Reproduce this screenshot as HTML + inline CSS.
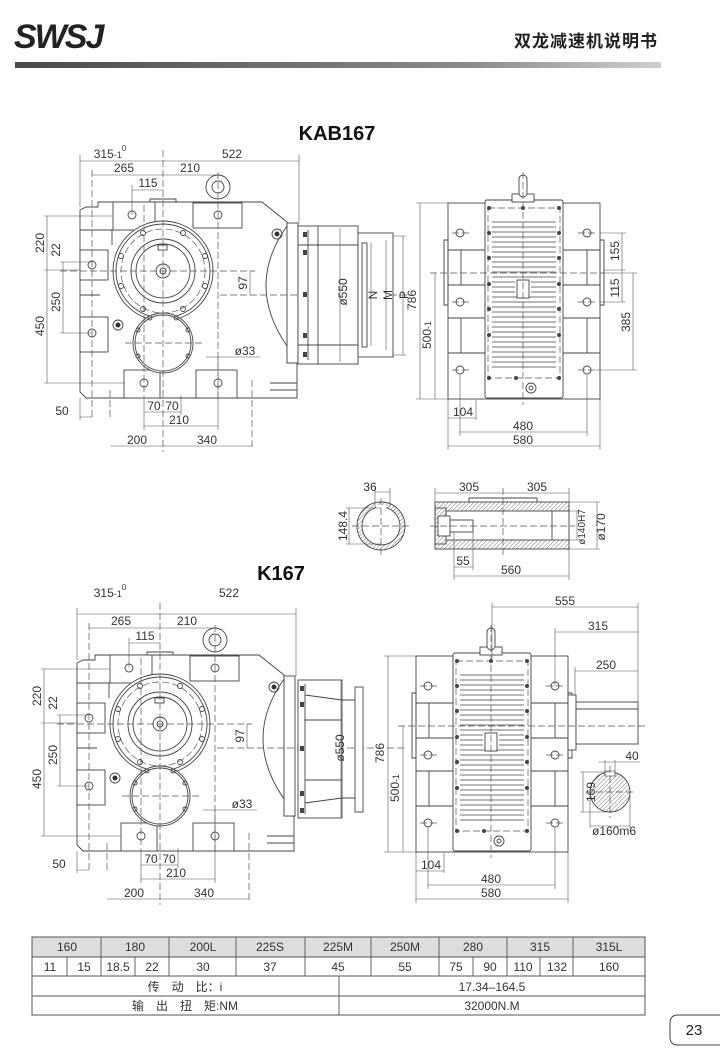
<!DOCTYPE html>
<html><head><meta charset="utf-8"><style>
html,body{margin:0;padding:0;background:#fff;}
svg{display:block;}
text{font-family:"Liberation Sans","Noto Sans CJK SC",sans-serif;fill:#333;}
.l{stroke:#444;stroke-width:0.9;fill:none;}
.t{stroke:#555;stroke-width:0.6;fill:none;}
.d{stroke:#555;stroke-width:0.7;fill:none;stroke-dasharray:7,3;}
.w{stroke:#444;stroke-width:0.9;fill:#fff;}
.dm{font-size:12px;}
</style></head><body>
<svg width="720" height="1060" viewBox="0 0 720 1060" xmlns="http://www.w3.org/2000/svg">
<defs>
<linearGradient id="bar" x1="0" x2="1" y1="0" y2="0">
<stop offset="0" stop-color="#4a4a4a"/><stop offset="0.7" stop-color="#8a8a8a"/><stop offset="1" stop-color="#cfcfcf"/>
</linearGradient>
<pattern id="hatch" width="3" height="3" patternUnits="userSpaceOnUse" patternTransform="rotate(45)">
<line x1="0" y1="0" x2="0" y2="3" stroke="#555" stroke-width="0.8"/>
</pattern>
<g id="fv">
<path class="w" d="M80,210 L86,207 L98,207 L98,202 L262,202 L287,222 L287,363 L297,363 L297,398 L86,398 L80,392 Z"/>
<path class="l" d="M270,383 L297,383 M270,390 L297,390"/>
<rect class="w" x="113" y="202" width="42" height="28"/>
<rect class="w" x="193" y="203" width="49" height="25"/>
<rect class="w" x="80" y="250" width="28" height="30"/>
<rect class="w" x="80" y="317" width="28" height="35"/>
<rect class="w" x="124" y="370" width="36" height="28"/>
<rect class="w" x="196" y="370" width="41" height="28"/>
<path class="l" d="M80,230 L112,230 L112,245 M80,295 L100,295"/>
<circle class="l" cx="132" cy="215" r="4"/><circle class="l" cx="218" cy="215" r="4"/>
<circle class="l" cx="92" cy="265" r="4"/><circle class="l" cx="92" cy="333" r="4"/>
<circle class="l" cx="144" cy="383" r="4"/><circle class="l" cx="218" cy="383" r="4"/>
<path class="l" d="M287,226 Q245,285 287,346"/>
<circle class="w" cx="218" cy="187" r="12"/><circle class="l" cx="218" cy="187" r="6"/>
<path class="l" d="M150,202 L150,199 L176,199 L176,202"/>
<circle class="w" cx="163" cy="271" r="50"/>
<circle class="l" cx="163" cy="271" r="47"/>
<circle class="d" cx="163" cy="271" r="42"/>
<circle class="l" cx="163" cy="271" r="32"/>
<circle class="l" cx="163" cy="271" r="27"/>
<circle class="l" cx="163" cy="271" r="7"/><circle class="l" cx="163" cy="271" r="3"/>
<rect class="l" x="158" y="245" width="9" height="5"/>
<g class="l">
<circle cx="143" cy="233" r="2.5"/><circle cx="183" cy="233" r="2.5"/>
<circle cx="205" cy="256" r="2.5"/><circle cx="205" cy="286" r="2.5"/>
<circle cx="121" cy="256" r="2.5"/><circle cx="121" cy="286" r="2.5"/>
<circle cx="143" cy="309" r="2.5"/><circle cx="183" cy="309" r="2.5"/>
</g>
<circle class="w" cx="163" cy="343" r="30"/>
<circle class="l" cx="163" cy="343" r="28"/>
<g class="l">
<circle cx="150" cy="318" r="2"/><circle cx="176" cy="318" r="2"/>
<circle cx="138" cy="330" r="2"/><circle cx="188" cy="330" r="2"/>
<circle cx="138" cy="356" r="2"/><circle cx="188" cy="356" r="2"/>
</g>
<circle class="l" cx="277" cy="234" r="5"/><circle fill="#333" cx="277" cy="234" r="2.5"/>
<circle class="l" cx="118" cy="325" r="5"/><circle fill="#333" cx="118" cy="325" r="2.5"/>
<rect class="w" x="287" y="223" width="11" height="140"/>
<path class="d" d="M163,150 L163,452 M60,271 L255,271 M220,295 L410,295 M125,343 L205,343 M218,172 L218,400 M144,205 L144,395 M110,390 L110,420 M252,380 L252,450 M92,170 L92,420"/>
<path class="t" d="M80,161 L299,161 M80,155 L80,207 M299,155 L299,223 M92,175 L218,175 M132,190 L163,190 M132,185 L132,215"/>
<path class="t" d="M44,216 L112,216 M44,270 L80,270 M44,383 L124,383 M47,216 L47,383 M63,262 L63,333 M60,333 L92,333 M60,262 L92,262"/>
<path class="t" d="M250,271 L250,295"/>
<path class="t" d="M80,417 L92,417 M80,398 L80,420 M144,412 L181,412 M181,395 L181,415 M144,426 L218,426 M144,395 L144,430 M110,446 L252,446 M218,357 L218,430 M206,357 L260,357"/>
</g>
<g id="sv">
<rect class="w" x="448" y="203" width="152" height="196"/>
<path class="l" d="M448,250 L485,250 M448,285 L485,285 M448,318 L485,318 M448,353 L485,353 M563,250 L600,250 M563,285 L600,285 M563,318 L600,318 M563,353 L600,353 M461,250 L461,285 M461,318 L461,353 M587,250 L587,285 M587,318 L587,353"/>
<path class="l" d="M444,240 L448,240 L448,305 L444,305 Z M600,240 L604,240 L604,305 L600,305 Z"/>
<circle class="l" cx="460" cy="233" r="4"/><circle class="l" cx="460" cy="302" r="4"/><circle class="l" cx="460" cy="370" r="4"/>
<circle class="l" cx="587" cy="233" r="4"/><circle class="l" cx="587" cy="302" r="4"/><circle class="l" cx="587" cy="370" r="4"/>
<rect class="w" x="485" y="200" width="78" height="198" rx="2"/>
<rect class="d" x="488" y="208" width="72" height="170"/>
<path stroke="#444" stroke-width="0.8" fill="none" d="M492,222H556M492,227H556M492,232H556M492,237H556M492,242H556M492,247H556M492,252H556M492,257H556M492,262H556M492,267H556M492,272H556M492,277H556M492,282H515M531,282H556M492,287H515M531,287H556M492,292H515M531,292H556M492,297H556M492,302H556M492,307H556M492,312H556M492,317H556M492,322H556M492,327H556M492,332H556M492,337H556M492,342H556M492,347H556M492,352H556M492,357H556M492,362H556M492,367H556"/>
<rect class="w" x="517" y="280" width="12" height="18"/>
<g fill="#444">
<circle cx="489" cy="208" r="2"/><circle cx="559" cy="208" r="2"/><circle cx="489" cy="233" r="2"/><circle cx="559" cy="233" r="2"/>
<circle cx="489" cy="258" r="2"/><circle cx="559" cy="258" r="2"/><circle cx="489" cy="284" r="2"/><circle cx="559" cy="284" r="2"/>
<circle cx="489" cy="309" r="2"/><circle cx="559" cy="309" r="2"/><circle cx="489" cy="335" r="2"/><circle cx="559" cy="335" r="2"/>
<circle cx="489" cy="378" r="2"/><circle cx="559" cy="378" r="2"/><circle cx="523" cy="208" r="2"/><circle cx="516" cy="378" r="2"/>
</g>
<rect class="w" x="512" y="194" width="22" height="8"/>
<rect class="w" x="519" y="175" width="8" height="22" rx="4"/>
<circle class="l" cx="531" cy="388" r="5"/><circle class="l" cx="531" cy="388" r="2"/>
<path class="d" d="M523,172 L523,405 M430,273 L605,273 M452,233 L470,233 M452,302 L470,302 M452,370 L470,370 M578,233 L596,233 M578,302 L596,302 M578,370 L596,370"/>
<path class="t" d="M416,203 L448,203 M420,203 L420,399 M416,399 L448,399 M435,273 L435,399 M448,399 L448,450 M600,399 L600,450 M460,375 L460,436 M476,400 L476,420 M587,375 L587,436 M448,418 L476,418 M460,432 L587,432 M448,446 L600,446"/>
</g>
</defs>

<text x="14" y="48" style="font-size:34px;font-weight:bold;font-style:italic;letter-spacing:-2px;fill:#222">SWSJ</text>
<text x="658" y="47" text-anchor="end" style="font-size:17px;font-weight:bold;fill:#222;letter-spacing:1px">双龙减速机说明书</text>
<rect x="15" y="62" width="646" height="6" fill="url(#bar)"/>

<text x="337" y="140" text-anchor="middle" style="font-size:20px;font-weight:bold;fill:#111">KAB167</text>
<use href="#fv"/>
<rect class="w" x="298" y="226" width="60" height="138"/>
<path class="l" d="M308,230 L308,360 M298,245 L358,245 M298,345 L358,345 M318,226 L318,364"/>
<g fill="#444"><rect x="303" y="232" width="4" height="5"/><rect x="303" y="250" width="4" height="5"/><rect x="303" y="292" width="4" height="5"/><rect x="303" y="333" width="4" height="5"/><rect x="303" y="352" width="4" height="5"/></g>
<rect class="w" x="358" y="233" width="35" height="124"/>
<rect class="l" x="362" y="243" width="5" height="104"/>
<path class="t" d="M340,228 L340,362 M371,243 L371,346 M386,240 L386,350 M403,236 L403,355 M393,236 L406,236 M393,355 L406,355"/>
<g class="dm">
<text x="110" y="158" text-anchor="middle">315<tspan font-size="9">-1</tspan><tspan font-size="8" dy="-7">0</tspan></text>
<text x="232" y="158" text-anchor="middle">522</text>
<text x="124" y="172" text-anchor="middle">265</text>
<text x="190" y="172" text-anchor="middle">210</text>
<text x="148" y="187" text-anchor="middle">115</text>
<text transform="translate(44,243) rotate(-90)" text-anchor="middle">220</text>
<text transform="translate(60,250) rotate(-90)" text-anchor="middle">22</text>
<text transform="translate(60,302) rotate(-90)" text-anchor="middle">250</text>
<text transform="translate(44,326) rotate(-90)" text-anchor="middle">450</text>
<text transform="translate(247,283) rotate(-90)" text-anchor="middle">97</text>
<text transform="translate(347,292) rotate(-90)" text-anchor="middle">ø550</text>
<text transform="translate(377,295) rotate(-90)" text-anchor="middle">N</text>
<text transform="translate(392,295) rotate(-90)" text-anchor="middle">M</text>
<text transform="translate(408,295) rotate(-90)" text-anchor="middle">P</text>
<text x="245" y="355" text-anchor="middle">ø33</text>
<text x="62" y="415" text-anchor="middle">50</text>
<text x="154" y="410" text-anchor="middle">70</text>
<text x="172" y="410" text-anchor="middle">70</text>
<text x="179" y="424" text-anchor="middle">210</text>
<text x="137" y="444" text-anchor="middle">200</text>
<text x="207" y="444" text-anchor="middle">340</text>
</g>
<use href="#sv"/>
<path class="t" d="M600,233 L626,233 M604,270 L626,270 M600,302 L626,302 M622,233 L622,302 M596,370 L637,370 M604,273 L637,273 M633,273 L633,370"/>
<g class="dm">
<text transform="translate(416,300) rotate(-90)" text-anchor="middle">786</text>
<text transform="translate(431,335) rotate(-90)" text-anchor="middle">500<tspan font-size="9">-1</tspan></text>
<text x="463" y="416" text-anchor="middle">104</text>
<text x="523" y="430" text-anchor="middle">480</text>
<text x="523" y="444" text-anchor="middle">580</text>
<text transform="translate(619,251) rotate(-90)" text-anchor="middle">155</text>
<text transform="translate(619,288) rotate(-90)" text-anchor="middle">115</text>
<text transform="translate(630,322) rotate(-90)" text-anchor="middle">385</text>
</g>

<circle cx="381" cy="526" r="24" fill="url(#hatch)" stroke="#444" stroke-width="0.9"/>
<circle class="w" cx="381" cy="526" r="19"/>
<rect x="376" y="505" width="10" height="4" fill="#fff"/>
<path class="d" d="M352,526 L410,526 M381,498 L381,556"/>
<path class="t" d="M375,492 L390,492 M375,488 L375,507 M390,488 L390,507 M346,508 L381,508 M346,544 L381,544 M349,508 L349,544"/>
<rect x="435" y="502" width="134" height="47" fill="url(#hatch)" stroke="#444" stroke-width="0.9"/>
<rect class="w" x="446" y="511" width="123" height="29"/>
<rect class="l" x="435" y="508" width="11" height="36"/>
<rect class="w" x="438" y="516" width="12" height="20"/>
<rect class="w" x="450" y="520" width="23" height="12"/>
<path class="l" d="M552,511 L552,540 M469,502 L469,498 L537,498 L537,502"/>
<path class="d" d="M430,526 L575,526 M503,488 L503,555"/>
<path class="t" d="M435,493 L569,493 M435,488 L435,502 M569,488 L569,502 M569,511 L580,511 M569,540 L580,540 M577,511 L577,540 M569,502 L600,502 M569,549 L600,549 M597,502 L597,549 M454,532 L454,580 M473,532 L473,570 M454,567 L473,567 M454,576 L569,576 M569,549 L569,580"/>
<g class="dm">
<text x="370" y="491" text-anchor="middle">36</text>
<text transform="translate(347,526) rotate(-90)" text-anchor="middle">148.4</text>
<text x="469" y="491" text-anchor="middle">305</text>
<text x="537" y="491" text-anchor="middle">305</text>
<text transform="translate(585,527) rotate(-90)" text-anchor="middle" font-size="10">ø140H7</text>
<text transform="translate(605,527) rotate(-90)" text-anchor="middle">ø170</text>
<text x="463" y="565" text-anchor="middle">55</text>
<text x="511" y="574" text-anchor="middle">560</text>
</g>

<text x="281" y="580" text-anchor="middle" style="font-size:20px;font-weight:bold;fill:#111">K167</text>
<g transform="translate(-3,453)">
<use href="#fv"/>
</g>
<rect class="w" x="298" y="680" width="44" height="138"/>
<path class="l" d="M305,684 L305,814 M305,695 L342,700 M305,803 L342,798 M305,720 L342,720 M305,780 L342,780"/>
<g fill="#444"><rect x="300" y="686" width="4" height="5"/><rect x="300" y="702" width="4" height="5"/><rect x="300" y="746" width="4" height="5"/><rect x="300" y="791" width="4" height="5"/><rect x="300" y="808" width="4" height="5"/></g>
<path class="l" d="M342,700 L355,700 M342,798 L355,798"/>
<rect class="w" x="355" y="687" width="8" height="125"/>
<path class="t" d="M341,680 L341,818"/>
<g class="dm">
<text x="110" y="597" text-anchor="middle">315<tspan font-size="9">-1</tspan><tspan font-size="8" dy="-7">0</tspan></text>
<text x="229" y="597" text-anchor="middle">522</text>
<text x="121" y="625" text-anchor="middle">265</text>
<text x="187" y="625" text-anchor="middle">210</text>
<text x="145" y="640" text-anchor="middle">115</text>
<text transform="translate(41,696) rotate(-90)" text-anchor="middle">220</text>
<text transform="translate(57,703) rotate(-90)" text-anchor="middle">22</text>
<text transform="translate(57,755) rotate(-90)" text-anchor="middle">250</text>
<text transform="translate(41,779) rotate(-90)" text-anchor="middle">450</text>
<text transform="translate(244,736) rotate(-90)" text-anchor="middle">97</text>
<text transform="translate(344,748) rotate(-90)" text-anchor="middle">ø550</text>
<text x="242" y="808" text-anchor="middle">ø33</text>
<text x="59" y="868" text-anchor="middle">50</text>
<text x="151" y="863" text-anchor="middle">70</text>
<text x="169" y="863" text-anchor="middle">70</text>
<text x="176" y="877" text-anchor="middle">210</text>
<text x="134" y="897" text-anchor="middle">200</text>
<text x="204" y="897" text-anchor="middle">340</text>
</g>
<g transform="translate(-32,453)">
<use href="#sv"/>
</g>
<rect class="w" x="568" y="695" width="8" height="55"/>
<rect class="w" x="576" y="702" width="62" height="42"/>
<path class="l" d="M576,709 L638,709"/>
<path class="d" d="M568,726 L645,726"/>
<path class="t" d="M492,607 L638,607 M492,603 L492,660 M638,603 L638,702 M555,632 L638,632 M555,628 L555,686 M575,671 L638,671 M575,667 L575,695"/>
<circle cx="610" cy="792" r="20" fill="url(#hatch)" stroke="#444" stroke-width="0.9"/>
<rect x="605" y="771" width="10" height="5" fill="#fff" stroke="#444" stroke-width="0.6"/>
<path class="d" d="M586,792 L634,792 M610,766 L610,818"/>
<path class="t" d="M605,760 L605,776 M615,760 L615,776 M598,762 L640,762 M580,772 L610,772 M580,812 L610,812 M583,772 L583,812 M590,795 L590,828 M630,795 L630,828 M590,826 L630,826"/>
<g class="dm">
<text x="565" y="605" text-anchor="middle">555</text>
<text x="598" y="630" text-anchor="middle">315</text>
<text x="606" y="669" text-anchor="middle">250</text>
<text x="632" y="760" text-anchor="middle">40</text>
<text transform="translate(595,792) rotate(-90)" text-anchor="middle">169</text>
<text x="614" y="835" text-anchor="middle">ø160m6</text>
<text transform="translate(384,753) rotate(-90)" text-anchor="middle">786</text>
<text transform="translate(399,788) rotate(-90)" text-anchor="middle">500<tspan font-size="9">-1</tspan></text>
<text x="431" y="869" text-anchor="middle">104</text>
<text x="491" y="883" text-anchor="middle">480</text>
<text x="491" y="897" text-anchor="middle">580</text>
</g>

<g style="font-size:12px">
<rect x="32" y="937" width="613" height="20" fill="#ddd"/>
<rect x="32" y="937" width="613" height="78" fill="none" stroke="#555" stroke-width="1"/>
<path stroke="#555" stroke-width="0.9" fill="none" d="M32,957H645 M32,976H645 M32,996H645 M101,937V976 M169,937V976 M236,937V976 M305,937V976 M371,937V976 M439,937V976 M507,937V976 M573,937V976 M67,957V976 M135,957V976 M473,957V976 M540,957V976 M339,976V1015"/>
<text x="67" y="951" text-anchor="middle">160</text>
<text x="135" y="951" text-anchor="middle">180</text>
<text x="203" y="951" text-anchor="middle">200L</text>
<text x="270" y="951" text-anchor="middle">225S</text>
<text x="338" y="951" text-anchor="middle">225M</text>
<text x="405" y="951" text-anchor="middle">250M</text>
<text x="473" y="951" text-anchor="middle">280</text>
<text x="540" y="951" text-anchor="middle">315</text>
<text x="609" y="951" text-anchor="middle">315L</text>
<text x="50" y="971" text-anchor="middle">11</text>
<text x="84" y="971" text-anchor="middle">15</text>
<text x="118" y="971" text-anchor="middle">18.5</text>
<text x="152" y="971" text-anchor="middle">22</text>
<text x="203" y="971" text-anchor="middle">30</text>
<text x="270" y="971" text-anchor="middle">37</text>
<text x="338" y="971" text-anchor="middle">45</text>
<text x="405" y="971" text-anchor="middle">55</text>
<text x="456" y="971" text-anchor="middle">75</text>
<text x="490" y="971" text-anchor="middle">90</text>
<text x="523" y="971" text-anchor="middle">110</text>
<text x="557" y="971" text-anchor="middle">132</text>
<text x="609" y="971" text-anchor="middle">160</text>
<text x="185" y="991" text-anchor="middle">传　动　比：i</text>
<text x="492" y="991" text-anchor="middle">17.34–164.5</text>
<text x="185" y="1010" text-anchor="middle">输　出　扭　矩:NM</text>
<text x="492" y="1010" text-anchor="middle">32000N.M</text>
</g>
<path d="M720,1015 L678,1015 Q670,1015 670,1023 L670,1037 Q670,1045 678,1045 L720,1045" fill="none" stroke="#444" stroke-width="1"/>
<text x="694" y="1035" text-anchor="middle" style="font-size:15px;fill:#222">23</text>
</svg>
</body></html>
